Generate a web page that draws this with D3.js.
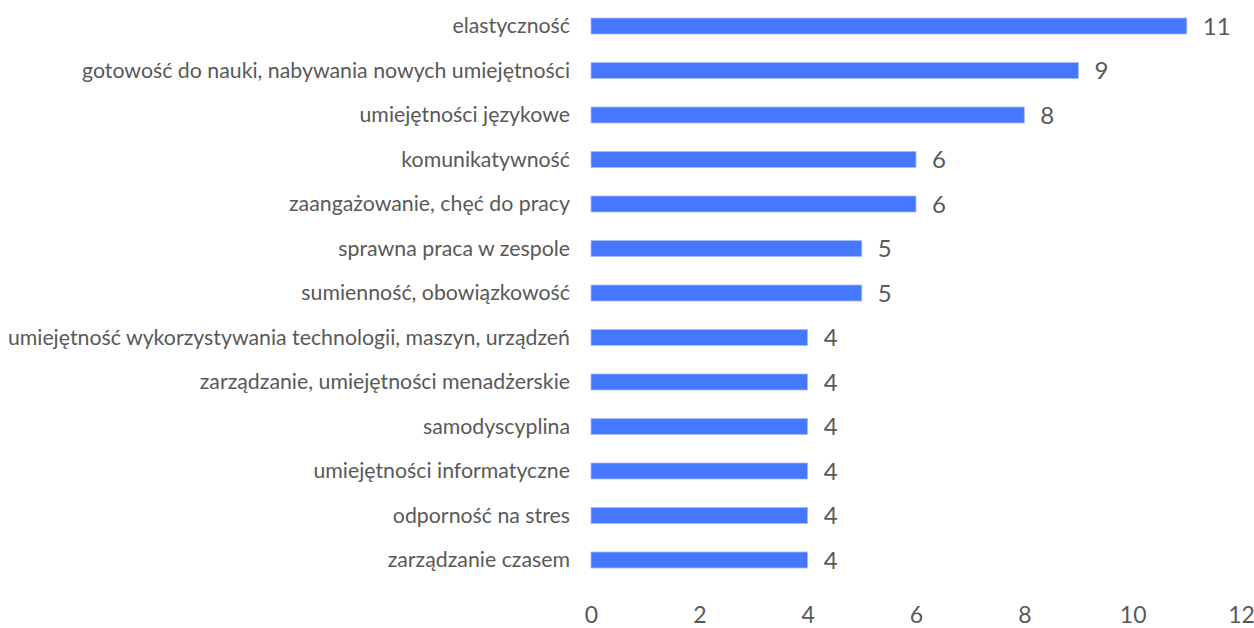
<!DOCTYPE html>
<html>
<head>
<meta charset="utf-8">
<script src="https://cdn.jsdelivr.net/npm/d3@7"></script>
<style>
  html, body { margin: 0; padding: 0; background: #ffffff; }
  svg { display: block; }
  text { font-family: Lato, "Open Sans", sans-serif; fill: #595959; }
</style>
</head>
<body>
<svg id="chart" width="1254" height="628"></svg>
<script>
const categories = [
  "elastyczność",
  "gotowość do nauki, nabywania nowych umiejętności",
  "umiejętności językowe",
  "komunikatywność",
  "zaangażowanie, chęć do pracy",
  "sprawna praca w zespole",
  "sumienność, obowiązkowość",
  "umiejętność wykorzystywania technologii, maszyn, urządzeń",
  "zarządzanie, umiejętności menadżerskie",
  "samodyscyplina",
  "umiejętności informatyczne",
  "odporność na stres",
  "zarządzanie czasem"
];
const values = [11, 9, 8, 6, 6, 5, 5, 4, 4, 4, 4, 4, 4];
const xTicks = [0, 2, 4, 6, 8, 10, 12];

const svg = d3.select("#chart");

const x = d3.scaleLinear().domain([0, 12]).range([591, 1241]);
const y = d3.scaleBand()
  .domain(categories)
  .range([3.75, 582.25])
  .paddingInner(0.64)
  .paddingOuter(0.32);

// bars
svg.append("g").selectAll("rect")
  .data(categories)
  .join("rect")
  .attr("x", x(0))
  .attr("y", d => y(d))
  .attr("width", (d, i) => x(values[i]) - x(0))
  .attr("height", y.bandwidth())
  .attr("fill", "#4677ff")
  .attr("stroke", "#a9bdff")
  .attr("stroke-width", 0.8);

// category labels
svg.append("g").selectAll("text")
  .data(categories)
  .join("text")
  .attr("x", 570)
  .attr("y", d => y(d) + y.bandwidth() / 2)
  .attr("dy", "0.35em")
  .attr("text-anchor", "end")
  .style("font-size", "21.3px")
  .text(d => d);

// value labels
svg.append("g").selectAll("text")
  .data(categories)
  .join("text")
  .attr("x", (d, i) => x(values[i]) + 16)
  .attr("y", d => y(d) + y.bandwidth() / 2)
  .attr("dy", "0.37em")
  .style("font-size", "24px")
  .text((d, i) => values[i]);

// x axis (labels only)
const xAxis = d3.axisBottom(x).tickValues(xTicks).tickSize(0).tickPadding(0);
const gx = svg.append("g").attr("transform", "translate(0,615)").call(xAxis);
gx.select(".domain").remove();
gx.selectAll("text")
  .attr("dy", "0.36em")
  .style("font-family", "Lato, 'Open Sans', sans-serif")
  .style("font-size", "23px")
  .attr("fill", "#595959");
</script>
</body>
</html>
